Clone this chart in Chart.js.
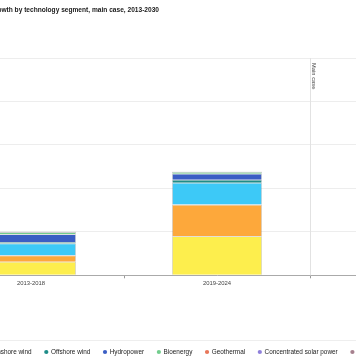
<!DOCTYPE html>
<html><head><meta charset="utf-8">
<script src="https://cdn.jsdelivr.net/npm/chart.js@4.4.1/dist/chart.umd.min.js"></script>
<style>
html,body{margin:0;padding:0;background:#fff;overflow:hidden;}
#wrap{position:relative;width:356px;height:364px;overflow:hidden;background:#fff;}
#c{position:absolute;left:-220px;top:0;}
#title{position:absolute;top:6px;right:197px;white-space:nowrap;font:bold 6.6px "Liberation Sans",Arial,sans-serif;line-height:8px;color:#1a1a1a;}
</style></head><body>
<div id="wrap">
<canvas id="c" width="724" height="372"></canvas>
<div id="title">Renewable capacity growth by technology segment, main case, 2013-2030</div>
</div>
<script>
// ---- data (GW) ----
const categories = ['2013-2018', '2019-2024', '2025-2030'];
const seriesNames = ['Utility-scale solar PV', 'Distributed solar PV', 'Onshore wind', 'Offshore wind', 'Hydropower', 'Bioenergy', 'Geothermal', 'Concentrated solar power', 'Ocean'];
const utilityPV     = [314, 900, null];
const distributedPV = [145, 727, null];
const onshoreWind   = [275, 505, null];
const offshoreWind  = [30, 65, null];
const hydropower    = [180, 138, null];
const bioenergy     = [50, 45, null];
const geothermal    = [6, 8, null];
const csp           = [2, 2, null];
const ocean         = [0.3, 0.3, null];
const yTicks = [0, 1000, 2000, 3000, 4000, 5000];
const annotationLabel = 'Main case';

const seriesValues = [utilityPV, distributedPV, onshoreWind, offshoreWind, hydropower, bioenergy, geothermal, csp, ocean];
const colors = ['#FDEE4D', '#FDA83B', '#3DC9F7', '#1E8C88', '#3A5EC4', '#72CD8D', '#E8775A', '#8F80DB', '#A6808E'];

// ---- layout (canvas is a wider chart, viewport shows a crop) ----
const OFFSET = 220;           // canvas x = view x + OFFSET
const CHART_LEFT = 158;       // canvas coords
const LEG_FS = 6.4, BOX = 3, PAD = 13.2;
const FAMILY = '"Liberation Sans", Arial, sans-serif';

const mctx = document.createElement('canvas').getContext('2d');
mctx.font = LEG_FS + 'px ' + FAMILY;
const iw = t => BOX + LEG_FS / 2 + mctx.measureText(t).width;
const offshoreLeft = 46.3 + OFFSET - BOX / 2;
const onshoreLeft = offshoreLeft - (iw(seriesNames[2]) + PAD);
const firstLeft = onshoreLeft - (iw(seriesNames[1]) + PAD) - (iw(seriesNames[0]) + PAD);
const P = Math.max(0, firstLeft - PAD);

const overlay = {
  id: 'overlay',
  afterDraw(chart) {
    const {ctx, chartArea, scales} = chart;
    const x = Math.round((scales.x.getPixelForValue(1) + scales.x.getPixelForValue(2)) / 2) + 0.5;
    ctx.save();
    ctx.strokeStyle = '#e2e2e2';
    ctx.lineWidth = 1;
    ctx.beginPath();
    ctx.moveTo(x, chartArea.top);
    ctx.lineTo(x, chartArea.bottom);
    ctx.stroke();
    ctx.translate(x + 3.2, chartArea.top + 5);
    ctx.rotate(Math.PI / 2);
    ctx.fillStyle = '#444';
    ctx.font = '5.8px ' + FAMILY;
    ctx.textAlign = 'left';
    ctx.textBaseline = 'middle';
    ctx.fillText(annotationLabel, 0, 0);
    ctx.restore();
    ctx.save();
    ctx.strokeStyle = '#eeeeee';
    ctx.beginPath();
    ctx.moveTo(0, 340.5);
    ctx.lineTo(chart.width, 340.5);
    ctx.stroke();
    ctx.restore();
  }
};

new Chart(document.getElementById('c'), {
  type: 'bar',
  data: {
    labels: categories,
    datasets: seriesNames.map((name, i) => ({
      label: name,
      data: seriesValues[i],
      backgroundColor: colors[i],
      borderColor: 'rgba(60,60,60,0.25)',
      borderWidth: 0.8,
      categoryPercentage: 1,
      barPercentage: 0.484
    }))
  },
  options: {
    responsive: false,
    animation: false,
    devicePixelRatio: 1,
    layout: { padding: { left: P, right: 8, top: 58, bottom: 6.8 } },
    scales: {
      x: {
        stacked: true,
        grid: { display: true, drawOnChartArea: false, drawTicks: true, tickLength: 3, color: '#999', offset: true },
        border: { color: '#aaa' },
        ticks: { font: { size: 5.9, family: FAMILY }, color: '#444', padding: 1.5, maxRotation: 0 },
        afterFit(s) { s.height = 60.3; }
      },
      y: {
        stacked: true,
        min: yTicks[0],
        max: yTicks[yTicks.length - 1],
        afterBuildTicks(s) { s.ticks = yTicks.map(v => ({ value: v })); },
        ticks: { font: { size: 6, family: FAMILY }, color: '#666' },
        grid: { color: '#ededed', drawTicks: false },
        border: { display: false },
        afterFit(s) { s.width = CHART_LEFT - P; }
      }
    },
    plugins: {
      title: { display: false },
      tooltip: { enabled: false },
      legend: {
        position: 'bottom',
        align: 'start',
        labels: {
          usePointStyle: true,
          pointStyle: 'circle',
          boxWidth: BOX,
          boxHeight: BOX,
          padding: PAD,
          color: '#222',
          font: { size: LEG_FS, family: FAMILY },
          generateLabels(chart) {
            const items = Chart.defaults.plugins.legend.labels.generateLabels(chart);
            items.forEach(it => { it.lineWidth = 0; it.strokeStyle = 'rgba(0,0,0,0)'; });
            return items;
          }
        }
      }
    }
  },
  plugins: [overlay]
});
</script>
</body></html>
